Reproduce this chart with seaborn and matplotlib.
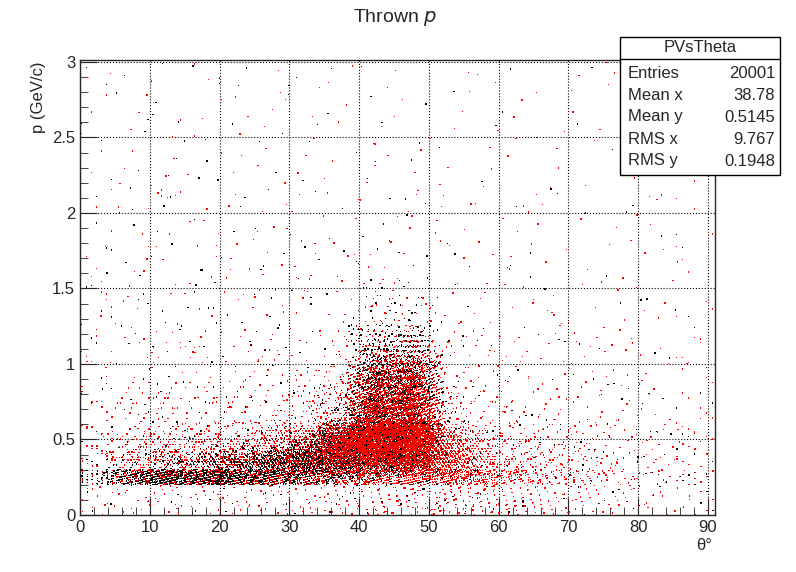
import numpy as np
import pandas as pd
import matplotlib
matplotlib.use("Agg")
import matplotlib.pyplot as plt
import seaborn as sns
from matplotlib.patches import Rectangle
from matplotlib.ticker import MultipleLocator

# theta bins (deg) and p bins (GeV/c); counts
theta_edges = [0, 5, 10, 15, 20, 25, 30, 35, 40, 45, 50, 55, 60, 65, 70, 75, 80, 85, 91]
p_edges = [0, 0.2, 0.3, 0.4, 0.5, 0.6, 0.8, 1.0, 1.2, 1.5, 2.0, 3.0]

black_counts = [
    [2, 30, 5, 3, 2, 3, 3, 2, 3, 4, 6],
    [3, 150, 30, 6, 3, 4, 4, 3, 4, 5, 7],
    [3, 300, 50, 8, 4, 4, 4, 3, 4, 5, 7],
    [3, 380, 80, 10, 4, 4, 4, 3, 4, 5, 6],
    [3, 340, 150, 15, 5, 4, 4, 3, 3, 4, 6],
    [3, 240, 280, 35, 7, 4, 4, 3, 3, 4, 5],
    [3, 120, 380, 110, 20, 6, 4, 3, 3, 4, 5],
    [5, 60, 330, 330, 160, 50, 10, 4, 3, 4, 5],
    [8, 40, 230, 430, 400, 380, 260, 90, 25, 6, 4],
    [10, 40, 190, 330, 360, 400, 290, 110, 15, 4, 4],
    [8, 30, 60, 40, 20, 15, 8, 3, 2, 3, 3],
    [5, 8, 6, 4, 3, 3, 2, 2, 2, 2, 3],
    [3, 3, 3, 2, 2, 2, 2, 1, 1, 2, 2],
    [3, 3, 3, 2, 2, 2, 2, 1, 1, 2, 2],
    [3, 3, 3, 2, 2, 2, 2, 1, 1, 2, 2],
    [3, 3, 3, 2, 2, 2, 2, 1, 1, 2, 2],
    [3, 3, 3, 2, 2, 2, 2, 1, 1, 2, 2],
    [3, 3, 3, 2, 2, 2, 2, 1, 1, 2, 2],
]

red_counts = [
    [10, 15, 10, 8, 6, 8, 5, 4, 5, 6, 8],
    [15, 50, 45, 30, 15, 15, 8, 6, 6, 7, 9],
    [15, 70, 60, 40, 20, 15, 8, 6, 6, 7, 9],
    [15, 70, 70, 45, 25, 15, 8, 6, 6, 7, 8],
    [15, 70, 80, 55, 30, 18, 8, 6, 6, 7, 8],
    [15, 70, 100, 70, 40, 20, 9, 6, 6, 7, 8],
    [20, 70, 140, 120, 70, 30, 12, 7, 6, 7, 8],
    [25, 80, 220, 300, 220, 100, 25, 10, 7, 7, 8],
    [30, 100, 300, 450, 450, 450, 250, 60, 15, 8, 7],
    [35, 110, 300, 450, 450, 550, 350, 100, 15, 8, 7],
    [40, 120, 200, 150, 80, 50, 20, 8, 6, 6, 7],
    [40, 90, 80, 50, 25, 18, 10, 6, 5, 6, 7],
    [35, 60, 45, 25, 15, 12, 7, 5, 5, 6, 7],
    [25, 35, 25, 15, 10, 10, 6, 5, 5, 5, 6],
    [18, 20, 15, 10, 8, 8, 5, 4, 4, 5, 6],
    [14, 14, 10, 8, 6, 7, 5, 4, 4, 5, 6],
    [10, 10, 8, 6, 5, 6, 4, 4, 4, 5, 6],
    [8, 8, 6, 5, 5, 6, 4, 4, 4, 5, 6],
]

stats_labels = ["Entries", "Mean x", "Mean y", "RMS x", "RMS y"]
stats_values = ["20001", "38.78", "0.5145", "9.767", "0.1948"]


def fill_cells(counts, offset):
    # spread each cell's count around the cell with a deterministic low-discrepancy
    # sequence (4-dim R-sequence); two coordinates summed give a soft triangular
    # footprint so neighbouring cells blend instead of showing hard edges
    g = 1.1673039782614187  # root of x^5 = x + 1
    a = [1 / g ** (d + 1) for d in range(4)]
    xs, ys = [], []
    k = offset
    nt, npb = len(theta_edges) - 1, len(p_edges) - 1
    for i, row in enumerate(counts):
        for j, n in enumerate(row):
            for _ in range(n):
                k += 1
                u1, u2, v1, v2 = [(0.5 + ad * k) % 1 for ad in a]
                u = u1 + u2 - 0.5  # -0.5 .. 1.5, peaked at the cell centre
                v = v1 + v2 - 0.5
                if i == 0 or i == nt - 1:
                    u = u1
                if j == 0 or j == npb - 1 or j == 1:
                    v = v1
                xs.append(theta_edges[i] + u * (theta_edges[i + 1] - theta_edges[i]))
                ys.append(p_edges[j] + v * (p_edges[j + 1] - p_edges[j]))
    return xs, ys


bx, by = fill_cells(black_counts, 0)
rx, ry = fill_cells(red_counts, 7919)
df = pd.DataFrame({
    "theta": bx + rx,
    "p": by + ry,
    "set": ["black"] * len(bx) + ["red"] * len(rx),
})

sns.set_style("ticks")
plt.rcParams['font.family'] = ['Liberation Sans', 'DejaVu Sans']

fig = plt.figure(figsize=(7.96, 5.72), dpi=100)
ax = fig.add_axes([80 / 796, 1 - 515 / 572, 635 / 796, 455 / 572])
sns.scatterplot(data=df, x="theta", y="p", hue="set",
                palette={"black": "black", "red": "#ff0000"},
                s=1, marker="s", linewidth=0, legend=False, ax=ax)

ax.set_xlim(0, 91)
ax.set_ylim(0, 3.013)
ax.xaxis.set_major_locator(MultipleLocator(10))
ax.xaxis.set_minor_locator(MultipleLocator(2))
ax.yaxis.set_major_locator(MultipleLocator(0.5))
ax.yaxis.set_minor_locator(MultipleLocator(0.1))
ax.yaxis.set_major_formatter(plt.FuncFormatter(lambda v, _: f"{v:g}"))
ax.tick_params(which="both", direction="in", top=False, right=False, labelsize=12)
ax.tick_params(which="major", length=12)
ax.tick_params(which="minor", length=6)
ax.grid(True, which="major", linestyle=":", color="black", linewidth=0.8)
ax.set_xlabel("")
ax.set_ylabel("")
for sp in ax.spines.values():
    sp.set_linewidth(1)

fig.text(395 / 796, 1 - 18 / 572, "Thrown $p$", ha="center", va="center", fontsize=14)
fig.text(38 / 796, 1 - 62 / 572, "p (GeV/c)", rotation=90, ha="center", va="top", fontsize=12)
fig.text(712 / 796, 1 - 545 / 572, "θ°", ha="right", va="center", fontsize=12)

# stats box
x0, x1, y0, y1 = 620, 780, 37, 175
fig.patches.append(Rectangle((x0 / 796, 1 - y1 / 572), (x1 - x0) / 796, (y1 - y0) / 572,
                             transform=fig.transFigure, facecolor="white",
                             edgecolor="black", linewidth=1, zorder=5))
fig.add_artist(plt.Line2D([x0 / 796, x1 / 796], [1 - 59 / 572, 1 - 59 / 572],
                          transform=fig.transFigure, color="black", linewidth=1, zorder=6))
fig.text((x0 + x1) / 2 / 796, 1 - 48 / 572, "PVsTheta", ha="center", va="center", fontsize=12, zorder=7)
for i, (lab, val) in enumerate(zip(stats_labels, stats_values)):
    yy = 1 - (73 + i * 22) / 572
    fig.text(628 / 796, yy, lab, ha="left", va="center", fontsize=12, zorder=7)
    fig.text(775 / 796, yy, val, ha="right", va="center", fontsize=12, zorder=7)

fig.savefig("out.png", dpi=100)
